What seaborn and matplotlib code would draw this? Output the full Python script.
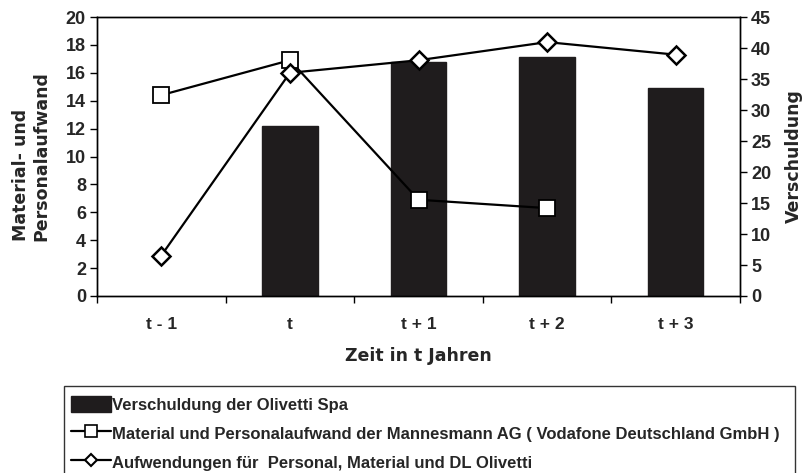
import matplotlib
matplotlib.use("Agg")
import matplotlib.pyplot as plt
import seaborn as sns
import numpy as np
import pandas as pd
from matplotlib.lines import Line2D
from matplotlib.patches import Patch, Rectangle
from matplotlib.legend_handler import HandlerPatch
from matplotlib.ticker import FixedLocator, MultipleLocator

categories = ["t - 1", "t", "t + 1", "t + 2", "t + 3"]
bar_categories = ["t", "t + 1", "t + 2", "t + 3"]
verschuldung = [27.4, 37.8, 38.5, 33.5]
mann_categories = ["t - 1", "t", "t + 1", "t + 2"]
mannesmann = [14.4, 16.9, 6.9, 6.3]
olivetti = [2.9, 16.0, 16.9, 18.2, 17.3]

label_bar = "Verschuldung der Olivetti Spa"
label_mann = "Material und Personalaufwand der Mannesmann AG ( Vodafone Deutschland GmbH )"
label_oli = "Aufwendungen für  Personal, Material und DL Olivetti"

sns.set_theme(style="white")
plt.rcParams['font.family'] = ['Liberation Sans', 'DejaVu Sans']

fig = plt.figure(figsize=(8.06, 4.73), dpi=100)
ax = fig.add_axes([97/806, 1-296/473, (740-97)/806, (296-17)/473])
ax2 = ax.twinx()

bar_color = "#1f1c1d"
df_bar = pd.DataFrame({"cat": bar_categories, "val": verschuldung})
sns.barplot(data=df_bar, x="cat", y="val", order=categories, ax=ax2,
            color=bar_color, saturation=1, width=0.43, errorbar=None,
            edgecolor=bar_color)

df_m = pd.DataFrame({"cat": mann_categories, "val": mannesmann})
df_o = pd.DataFrame({"cat": categories, "val": olivetti})
sns.pointplot(data=df_m, x="cat", y="val", order=categories, ax=ax,
              color="black", markers="s", errorbar=None,
              markersize=11, markerfacecolor="white", markeredgecolor="black",
              markeredgewidth=1.3, linewidth=1.6)
sns.pointplot(data=df_o, x="cat", y="val", order=categories, ax=ax,
              color="black", markers="D", errorbar=None,
              markersize=9.5, markerfacecolor="white", markeredgecolor="black",
              markeredgewidth=1.8, linewidth=1.6)

ax.set_zorder(ax2.get_zorder() + 1)
ax.patch.set_visible(False)

for a in (ax, ax2):
    a.set_xlim(-0.5, 4.5)
ax.set_ylim(0, 20)
ax2.set_ylim(0, 45)
ax.yaxis.set_major_locator(MultipleLocator(2))
ax2.yaxis.set_major_locator(MultipleLocator(5))

ax.set_xticks(range(len(categories)))
ax.set_xticklabels(categories)
ax.xaxis.set_minor_locator(FixedLocator(np.arange(-0.5, 5, 1)))
ax.tick_params(axis='x', which='major', length=0, pad=15, labelsize=12.5)
ax.tick_params(axis='x', which='minor', length=5, width=1, direction='out', color='black', bottom=True)
ax2.tick_params(axis='x', which='both', bottom=False, labelbottom=False)
ax.tick_params(axis='y', length=5, width=1, direction='out', color='black', left=True, pad=3, labelsize=13)
ax2.tick_params(axis='y', length=5, width=1, direction='out', color='black', right=True, pad=3, labelsize=13)
for lab in ax.get_yticklabels() + ax2.get_yticklabels() + ax.get_xticklabels():
    lab.set_fontweight('bold')

for a in (ax, ax2):
    for s in a.spines.values():
        s.set_visible(True)
        s.set_color('black')
        s.set_linewidth(1.0)

title_font = dict(family=['DejaVu Sans'], fontsize=12.5, fontweight='bold')
ax.set_xlabel("Zeit in t Jahren", labelpad=11, **title_font)
ax.set_ylabel("Material- und\nPersonalaufwand", labelpad=11, linespacing=1.15,
              multialignment='left', **title_font)
ax2.set_ylabel("Verschuldung", labelpad=10, rotation=90, **title_font)


def small_rect(legend, orig_handle, xdescent, ydescent, width, height, fontsize):
    h = 0.95 * fontsize
    return Rectangle((-xdescent, -ydescent + (height - h) / 2), width, h)


handles = [
    Patch(facecolor=bar_color, edgecolor=bar_color),
    Line2D([], [], color='black', lw=1.6, marker='s', markersize=8,
           markerfacecolor='white', markeredgecolor='black', markeredgewidth=1.2),
    Line2D([], [], color='black', lw=1.6, marker='D', markersize=6.5,
           markerfacecolor='white', markeredgecolor='black', markeredgewidth=1.5),
]
leg = fig.legend(handles, [label_bar, label_mann, label_oli],
                 loc='upper left', bbox_to_anchor=(64/806, 1-386/473-0.01, (795-64)/806, 0.01),
                 mode='expand', frameon=True, fancybox=False,
                 prop=dict(family=['Liberation Sans', 'DejaVu Sans'], size=12, weight='bold'),
                 handlelength=2.4, handletextpad=0.1, labelspacing=0.38,
                 borderaxespad=0, borderpad=0.4, handleheight=1.75,
                 handler_map={Patch: HandlerPatch(patch_func=small_rect)})
leg.get_frame().set_edgecolor('black')
leg.get_frame().set_linewidth(1.0)

fig.savefig("out.png", dpi=100)
